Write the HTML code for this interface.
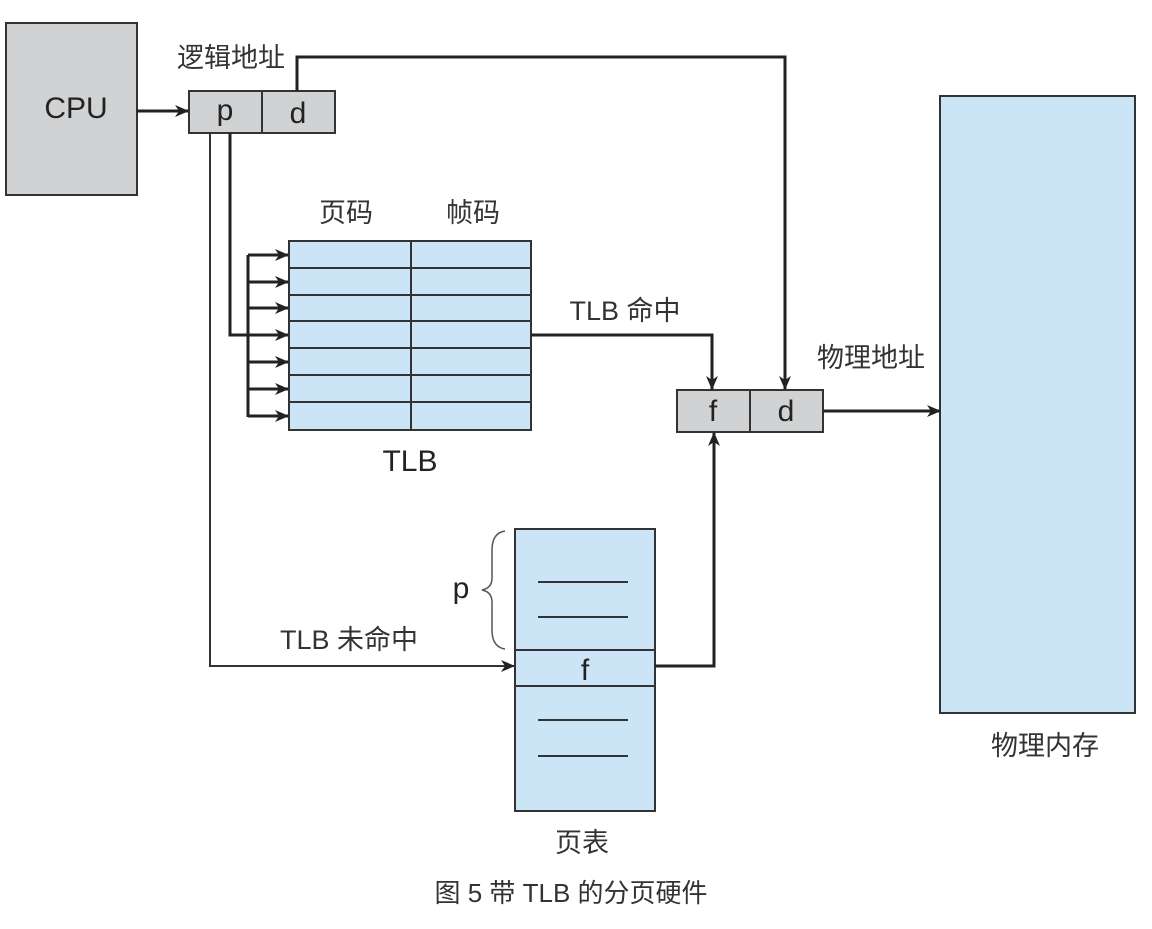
<!DOCTYPE html>
<html><head><meta charset="utf-8"><style>
html,body{margin:0;padding:0;background:#fff;}
svg text{font-family:"Liberation Sans","Noto Sans CJK SC",sans-serif;}
</style></head><body>
<svg width="1152" height="924" viewBox="0 0 1152 924" xmlns="http://www.w3.org/2000/svg">
<defs>
<marker id="a" markerWidth="14" markerHeight="12" refX="13" refY="6" orient="auto" markerUnits="userSpaceOnUse">
<path d="M0,0 L14,6 L0,12 L4,6 z" fill="#222"/></marker>
</defs>
<g stroke="#333" stroke-width="2">
<rect x="6" y="23" width="131" height="172" fill="#d0d2d3"/>
<rect x="189" y="91" width="146" height="42" fill="#d0d2d3"/>
<line x1="262" y1="91" x2="262" y2="133"/>
<rect x="677" y="390" width="146" height="42" fill="#d0d2d3"/>
<line x1="750" y1="390" x2="750" y2="432"/>
<rect x="940" y="96" width="195" height="617" fill="#cce5f6"/>
<rect x="289" y="241" width="242" height="189" fill="#cce5f6"/>
<line x1="411" y1="241" x2="411" y2="430"/>
<line x1="289" y1="268" x2="531" y2="268"/>
<line x1="289" y1="295" x2="531" y2="295"/>
<line x1="289" y1="321" x2="531" y2="321"/>
<line x1="289" y1="348" x2="531" y2="348"/>
<line x1="289" y1="375" x2="531" y2="375"/>
<line x1="289" y1="402" x2="531" y2="402"/>
<rect x="515" y="529" width="140" height="282" fill="#cce5f6"/>
<line x1="515" y1="650" x2="655" y2="650"/>
<line x1="515" y1="686" x2="655" y2="686"/>
<line x1="538" y1="582" x2="628" y2="582"/>
<line x1="538" y1="617" x2="628" y2="617"/>
<line x1="538" y1="720" x2="628" y2="720"/>
<line x1="538" y1="756" x2="628" y2="756"/>
</g>
<g stroke="#222" stroke-width="3" fill="none">
<line x1="137" y1="111" x2="188" y2="111" marker-end="url(#a)"/>
<polyline points="297,91 297,57 785,57 785,389" marker-end="url(#a)"/>
<polyline points="531,335 712,335 712,389" marker-end="url(#a)"/>
<line x1="823" y1="411" x2="940" y2="411" marker-end="url(#a)"/>
<polyline points="655,666 714,666 714,433" marker-end="url(#a)"/>
<polyline points="230,133 230,335 248,335"/>
<line x1="248" y1="255" x2="248" y2="417"/>
<line x1="248" y1="255" x2="288" y2="255" marker-end="url(#a)"/>
<line x1="248" y1="282" x2="288" y2="282" marker-end="url(#a)"/>
<line x1="248" y1="308" x2="288" y2="308" marker-end="url(#a)"/>
<line x1="248" y1="335" x2="288" y2="335" marker-end="url(#a)"/>
<line x1="248" y1="362" x2="288" y2="362" marker-end="url(#a)"/>
<line x1="248" y1="389" x2="288" y2="389" marker-end="url(#a)"/>
<line x1="248" y1="416" x2="288" y2="416" marker-end="url(#a)"/>
</g>
<polyline points="210,133 210,666 514,666" stroke="#333" stroke-width="2" fill="none" marker-end="url(#a)"/>
<path d="M505,531 Q492,533 492,550 L492,578 Q492,588 482,590 Q492,592 492,602 L492,630 Q492,647 505,649" stroke="#555" stroke-width="1.5" fill="none"/>
<g fill="#222" font-size="30" text-anchor="middle">
<text x="76" y="118">CPU</text>
<text x="225" y="120">p</text>
<text x="298" y="123">d</text>
<text x="713" y="421">f</text>
<text x="786" y="421">d</text>
<text x="585" y="680">f</text>
<text x="461" y="598">p</text>
<text x="410" y="471">TLB</text>
</g>
<g fill="#333" font-size="27" text-anchor="middle">
<text x="231" y="67">逻辑地址</text>
<text x="346" y="222">页码</text>
<text x="473" y="222">帧码</text>
<text x="625" y="320">TLB 命中</text>
<text x="871" y="367">物理地址</text>
<text x="349" y="649">TLB 未命中</text>
<text x="1045" y="755">物理内存</text>
<text x="582" y="852">页表</text>
<text x="571" y="902" font-size="26">图 5 带 TLB 的分页硬件</text>
</g>
</svg>
</body></html>
